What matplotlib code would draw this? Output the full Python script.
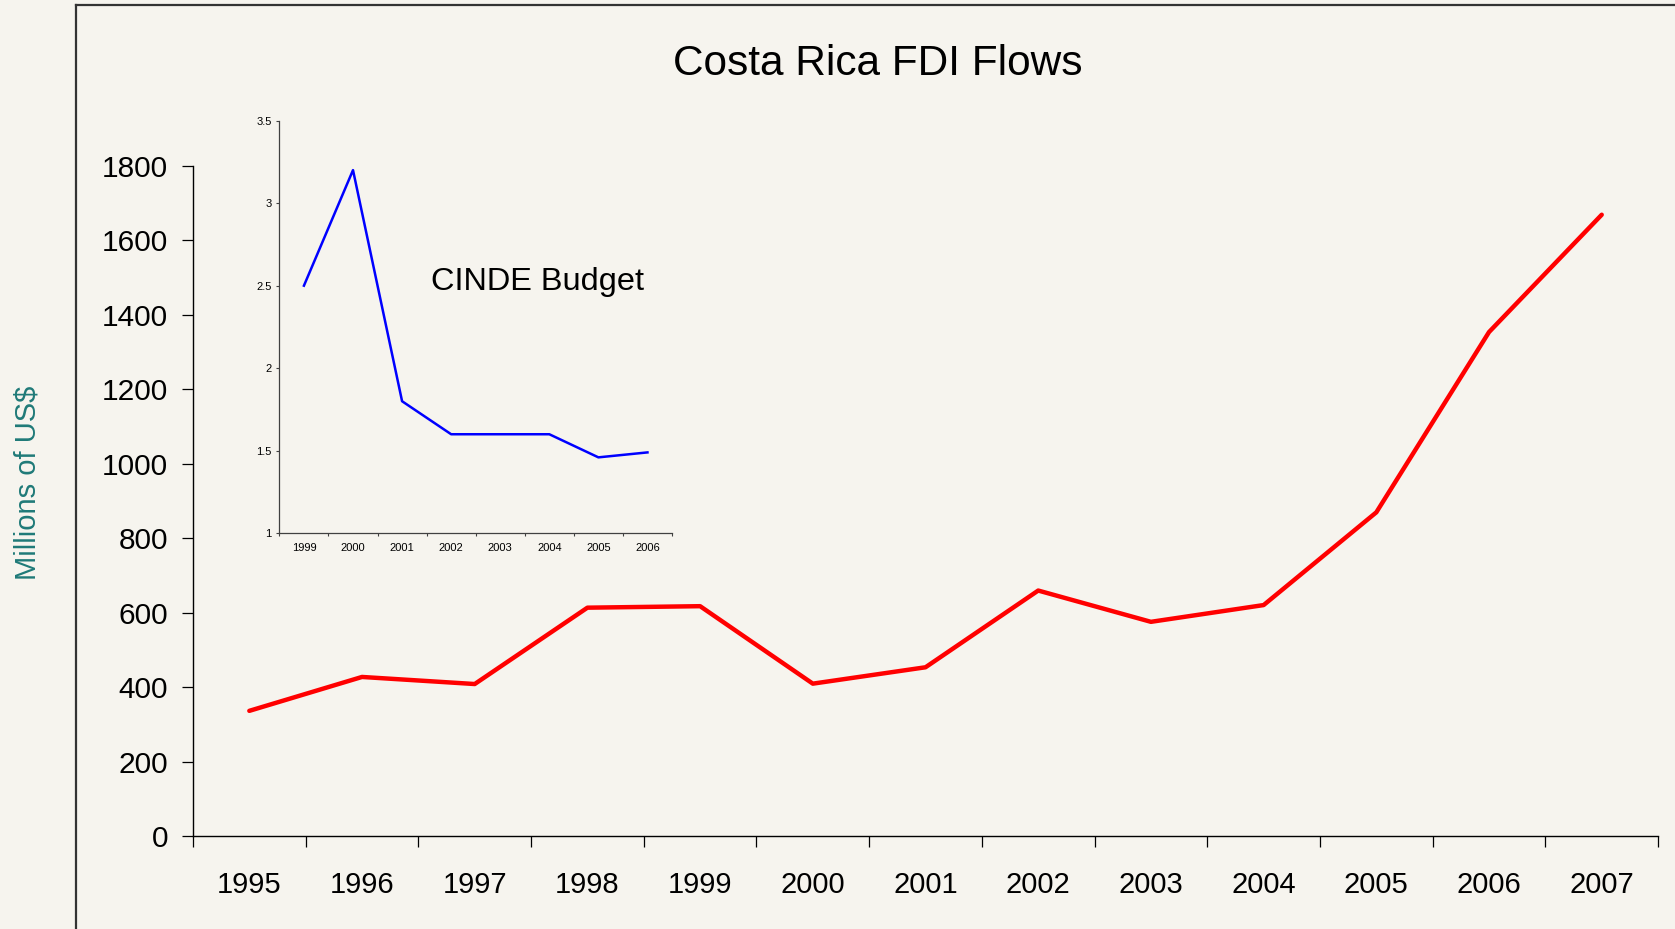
import matplotlib
matplotlib.use("Agg")
import matplotlib.pyplot as plt
from matplotlib.lines import Line2D

plt.rcParams['font.family'] = ['Liberation Sans', 'DejaVu Sans']

# main series: FDI flows, millions of US$
years = ['1995', '1996', '1997', '1998', '1999', '2000', '2001',
         '2002', '2003', '2004', '2005', '2006', '2007']
fdi = [336, 427, 408, 613, 617, 409, 453, 659, 575, 620, 869, 1353, 1668]

# inset series: CINDE budget
cinde_years = ['1999', '2000', '2001', '2002', '2003', '2004', '2005', '2006']
cinde = [2.50, 3.20, 1.80, 1.60, 1.60, 1.60, 1.46, 1.49]

bg = '#F6F4EE'
fig = plt.figure(figsize=(16.75, 9.291), dpi=100, facecolor=bg)

# outer frame (left and top edges only)
fig.add_artist(Line2D([0.0454, 0.0454], [0, 0.9946], transform=fig.transFigure,
                      color='#333333', lw=1.6))
fig.add_artist(Line2D([0.0454, 1.0], [0.9946, 0.9946], transform=fig.transFigure,
                      color='#333333', lw=1.6))

# main chart
ax = fig.add_axes([0.1152, 0.1001, 0.8747, 0.7216])
ax.set_facecolor('none')
x = list(range(len(years)))
ax.plot(x, fdi, color='#FF0000', lw=3.2, solid_capstyle='round', solid_joinstyle='round')
ax.set_xlim(-0.5, len(years) - 0.5)
ax.set_ylim(0, 1800)
ax.set_yticks(range(0, 1801, 200))
ax.set_xticks(x)
ax.set_xticklabels(years)
ax.set_xticks([i - 0.5 for i in range(len(years) + 1)], minor=True)
ax.tick_params(axis='x', which='major', length=0, pad=25, labelsize=21)
ax.tick_params(axis='x', which='minor', length=8, width=0.9, direction='out')
ax.tick_params(axis='y', length=8, width=0.9, direction='out', pad=10, labelsize=21.5)
for s in ['top', 'right']:
    ax.spines[s].set_visible(False)
for s in ['left', 'bottom']:
    ax.spines[s].set_linewidth(1.0)
    ax.spines[s].set_color('black')

fig.text(0.0165, 0.48, 'Millions of US$', rotation=90, ha='center', va='center',
         fontsize=21, color='#1F7A78')
fig.text(0.524, 0.931, 'Costa Rica FDI Flows', ha='center', va='center', fontsize=30.5)

# inset chart
axi = fig.add_axes([0.1668, 0.4259, 0.2344, 0.4442])
axi.set_facecolor('none')
xi = list(range(len(cinde_years)))
axi.plot(xi, cinde, color='#0000FF', lw=1.8)
axi.set_xlim(-0.5, len(cinde_years) - 0.5)
axi.set_ylim(1, 3.5)
axi.set_yticks([1, 1.5, 2, 2.5, 3, 3.5])
axi.set_yticklabels(['1', '1.5', '2', '2.5', '3', '3.5'])
axi.set_xticks(xi)
axi.set_xticklabels(cinde_years)
axi.set_xticks([i - 0.5 for i in range(len(cinde_years) + 1)], minor=True)
axi.tick_params(axis='x', which='major', length=0, pad=7, labelsize=8)
axi.tick_params(axis='x', which='minor', length=2.5, width=0.8, direction='out', color='#404040')
axi.tick_params(axis='y', length=2.5, width=0.8, direction='out', pad=3, labelsize=8,
                color='#404040')
for s in ['top', 'right']:
    axi.spines[s].set_visible(False)
for s in ['left', 'bottom']:
    axi.spines[s].set_linewidth(0.9)
    axi.spines[s].set_color('#404040')
axi.text(0.385, 0.61, 'CINDE Budget', transform=axi.transAxes, fontsize=23.4,
         va='center', ha='left')

fig.savefig('out.png', dpi=100, facecolor=bg)
